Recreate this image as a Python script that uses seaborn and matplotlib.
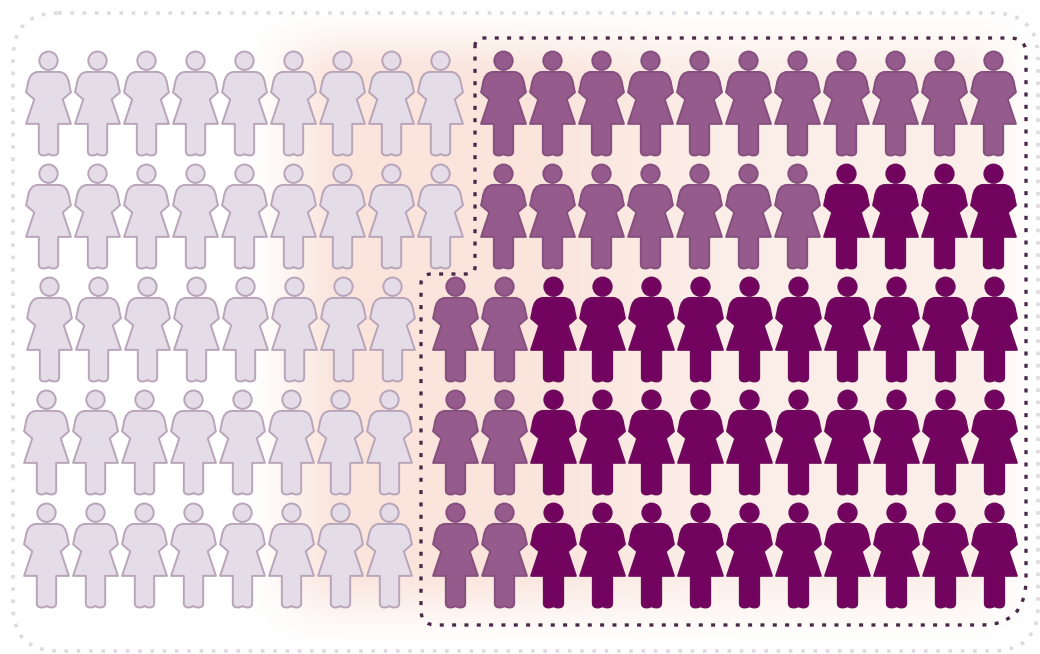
import numpy as np
import pandas as pd
import matplotlib.pyplot as plt
import seaborn as sns
from matplotlib.path import Path
from matplotlib.patches import PathPatch, FancyBboxPatch
from matplotlib.markers import MarkerStyle

# number of figures of each kind per row, top to bottom
rows = [1, 2, 3, 4, 5]
light_counts = [9, 9, 8, 8, 8]
mid_counts = [11, 7, 2, 2, 2]
dark_counts = [0, 4, 10, 10, 10]

groups = ['light', 'mid', 'dark']
fill_colors = {'light': '#e4dce7', 'mid': '#945b8c', 'dark': '#72045f'}
edge_colors = {'light': '#b9a5ba', 'mid': '#85507e', 'dark': '#6e0a5c'}

# layout in pixels
step_x = 49
step_y = 113
left_start = [48, 48, 49, 46, 46]
right_start = [503, 503, 455, 455, 455]
top_y = 103


def woman_path():
    # outline taken from one figure, centred on the figure, y up
    right = [
        (Path.MOVETO, (0, 31)), (Path.LINETO, (10, 31)),
        (Path.CURVE3, (19, 31)), (Path.CURVE3, (20.5, 18)),
        (Path.LINETO, (22, 11)),
        (Path.LINETO, (14, 4)),
        (Path.LINETO, (22, -20)), (Path.LINETO, (9.5, -20)),
        (Path.LINETO, (9.5, -47)),
        (Path.CURVE3, (9.5, -51)), (Path.CURVE3, (5, -51)),
        (Path.CURVE3, (1.5, -51)), (Path.CURVE3, (0, -49.5)),
    ]
    codes = [c for c, _ in right]
    verts = [v for _, v in right]
    # mirror the right side for the left side
    pts = verts[::-1][1:]
    cds = codes[::-1][:-1]
    for c, v in zip(cds, pts):
        verts.append((-v[0], v[1]))
        codes.append(c)
    codes.append(Path.CLOSEPOLY)
    verts.append((0, 31))
    body = Path(verts, codes)
    head = Path.circle((0, 42), 9)
    return Path.make_compound_path(body, head)


# build the table of figures
records = []
for i, row in enumerate(rows):
    for c in range(light_counts[i]):
        records.append(('light', left_start[i] + c * step_x, top_y + i * step_y))
    right_kinds = ['mid'] * mid_counts[i] + ['dark'] * dark_counts[i]
    for c, kind in enumerate(right_kinds):
        records.append((kind, right_start[i] + c * step_x, top_y + i * step_y))
df = pd.DataFrame(records, columns=['group', 'x', 'y'])

sns.set_theme(style='white')
fig = plt.figure(figsize=(10.4, 6.54), dpi=100)
ax = fig.add_axes([0, 0, 1, 1])
ax.set_xlim(0, 1040)
ax.set_ylim(654, 0)
ax.set_axis_off()

# peach glow behind the figures
xx, yy = np.meshgrid(np.arange(1040), np.arange(654))


def ramp(v, a, b):
    t = np.clip((v - a) / (b - a), 0, 1)
    return t * t * (3 - 2 * t)


glow = ramp(xx, 240, 350) * (1 - 0.35 * ramp(xx, 480, 750)) * (1 - ramp(xx, 960, 1040))
glow = glow * ramp(yy, 5, 80) * (1 - ramp(yy, 560, 650))
bg = np.ones((654, 1040, 3))
peach = np.array([250, 228, 219]) / 255
for k in range(3):
    bg[:, :, k] = 1 + (peach[k] - 1) * glow
ax.imshow(bg, extent=(0, 1040, 654, 0), aspect='auto', zorder=0)

# outer dotted frame
frame = FancyBboxPatch((13, 13), 1025, 638, boxstyle='round,pad=0,rounding_size=45',
                       fill=False, edgecolor='#dfd9e0', linewidth=2.6,
                       linestyle=(0, (1.0, 2.4)), zorder=1)
ax.add_patch(frame)

# dashed outline around the highlighted group
c = Path.CURVE3
l = Path.LINETO
outline = Path(
    [(475, 46), (475, 38), (483, 38), (1010, 38), (1026, 38), (1026, 54),
     (1026, 580), (1026, 625), (981, 625), (436, 625), (421, 625), (421, 610),
     (421, 284), (421, 274), (431, 274), (468, 274), (475, 274), (475, 267),
     (475, 46)],
    [Path.MOVETO, c, c, l, c, c, l, c, c, l, c, c, l, c, c, l, c, c, l])
ax.add_patch(PathPatch(outline, fill=False, edgecolor='#4a2a48', linewidth=2.4,
                       linestyle=(0, (1.2, 2.5)), zorder=3))

# figures
marker = MarkerStyle(woman_path())
for g in groups:
    sns.scatterplot(data=df[df['group'] == g], x='x', y='y', marker=marker,
                    s=5600, color=fill_colors[g], edgecolor=edge_colors[g],
                    linewidth=1.4, legend=False, ax=ax, zorder=2)
ax.set_xlim(0, 1040)
ax.set_ylim(654, 0)
ax.set_axis_off()

fig.savefig('out.png', dpi=100)
